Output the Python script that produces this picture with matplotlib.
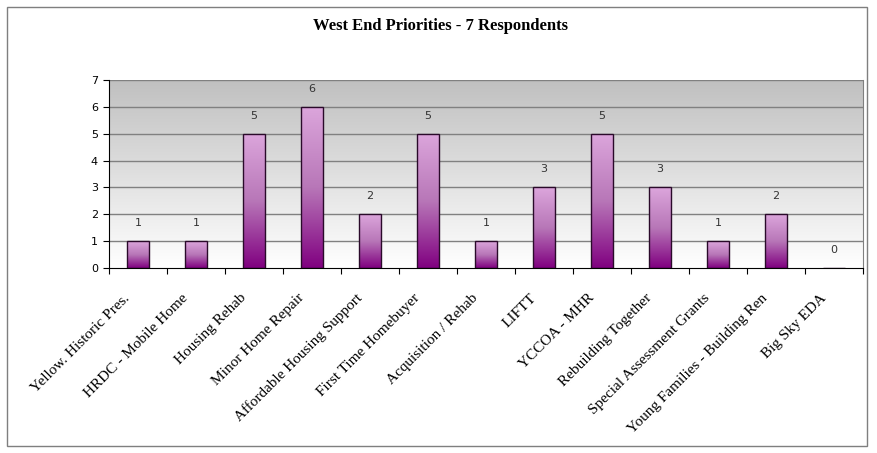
import numpy as np
import matplotlib
matplotlib.use("Agg")
import matplotlib.pyplot as plt
from matplotlib.colors import LinearSegmentedColormap
from matplotlib.patches import Rectangle
from matplotlib.transforms import ScaledTranslation

categories = [
    "Yellow. Historic Pres.", "HRDC - Mobile Home", "Housing Rehab",
    "Minor Home Repair", "Affordable Housing Support", "First Time Homebuyer",
    "Acquisition / Rehab", "LIFTT", "YCCOA - MHR", "Rebuilding Together",
    "Special Assessment Grants", "Young Families - Building Ren", "Big Sky EDA",
]
values = [1, 1, 5, 6, 2, 5, 1, 3, 5, 3, 1, 2, 0]
y_ticks = [0, 1, 2, 3, 4, 5, 6, 7]
title = "West End Priorities - 7 Respondents"

W, H = 878, 453
fig = plt.figure(figsize=(W / 100, H / 100), dpi=100)
fig.patch.set_facecolor("white")

# outer chart frame
fig.add_artist(Rectangle((7 / W, 1 - 446 / H), 860 / W, 439 / H,
                         transform=fig.transFigure, fill=False,
                         edgecolor="#7f7f7f", linewidth=1.0))

left, right, top, bottom = 109, 863, 80, 268
ax = fig.add_axes([left / W, 1 - bottom / H, (right - left) / W, (bottom - top) / H])

n = len(categories)
x = np.arange(n)

# plot-area gradient: grey at the top fading to white at the bottom
bg_cmap = LinearSegmentedColormap.from_list("bg", ["#ffffff", "#c0c0c0"])
grad = np.linspace(0, 1, 256).reshape(-1, 1)
ax.imshow(grad, cmap=bg_cmap, origin="lower", aspect="auto",
          extent=(-0.5, n - 0.5, 0, 7), zorder=0, interpolation="bicubic")

# horizontal gridlines
for t in y_ticks[1:]:
    ax.axhline(t, color="#808080", linewidth=1.0, zorder=1)

# bars filled with a plum-to-purple vertical gradient
bar_cmap = LinearSegmentedColormap.from_list("bar", ["#800080", "#b877b8", "#dca6dc"])
bars = ax.bar(x, values, width=0.39, facecolor="none", edgecolor="#2a0a2a",
              linewidth=1.0, zorder=3)
for b in bars:
    h = b.get_height()
    if h <= 0:
        continue
    bx = b.get_x()
    im = ax.imshow(grad, cmap=bar_cmap, origin="lower", aspect="auto",
                   extent=(bx, bx + b.get_width(), 0, h), zorder=2,
                   interpolation="bicubic")
    im.set_clip_path(b)

ax.set_xlim(-0.5, n - 0.5)
ax.set_ylim(0, 7)

# value labels above the bars
for xi, v in zip(x, values):
    ax.annotate(str(v), (xi, v), xytext=(0, 13), textcoords="offset points",
                ha="center", va="center", fontsize=8, color="#333333",
                fontfamily="DejaVu Sans")

# axes styling
ax.spines["top"].set_visible(False)
ax.spines["right"].set_color("#808080")
ax.spines["left"].set_color("#000000")
ax.spines["bottom"].set_color("#000000")
ax.set_yticks(y_ticks)
ax.set_yticklabels([str(t) for t in y_ticks], fontsize=8, fontfamily="DejaVu Sans")
ax.tick_params(axis="y", length=4, width=0.8, pad=4)

# category boundary ticks on the x axis
ax.set_xticks(np.arange(-0.5, n, 1.0))
ax.set_xticklabels([])
ax.tick_params(axis="x", which="major", length=4, width=0.8, direction="out")

# rotated category labels hanging below each bar
label_offset = ScaledTranslation(-10 / 100, -28 / 100, fig.dpi_scale_trans)
label_trans = ax.get_xaxis_transform() + label_offset
for xi, cat in zip(x, categories):
    ax.text(xi, 0, cat, transform=label_trans, rotation=45,
            rotation_mode="anchor", ha="right", va="center", fontsize=11,
            fontfamily="Liberation Serif", clip_on=False)

fig.text(441 / W, 1 - 26 / H, title, ha="center", va="center",
         fontsize=12, fontfamily="Liberation Serif", fontweight="bold")

fig.savefig("out.png", dpi=100)
